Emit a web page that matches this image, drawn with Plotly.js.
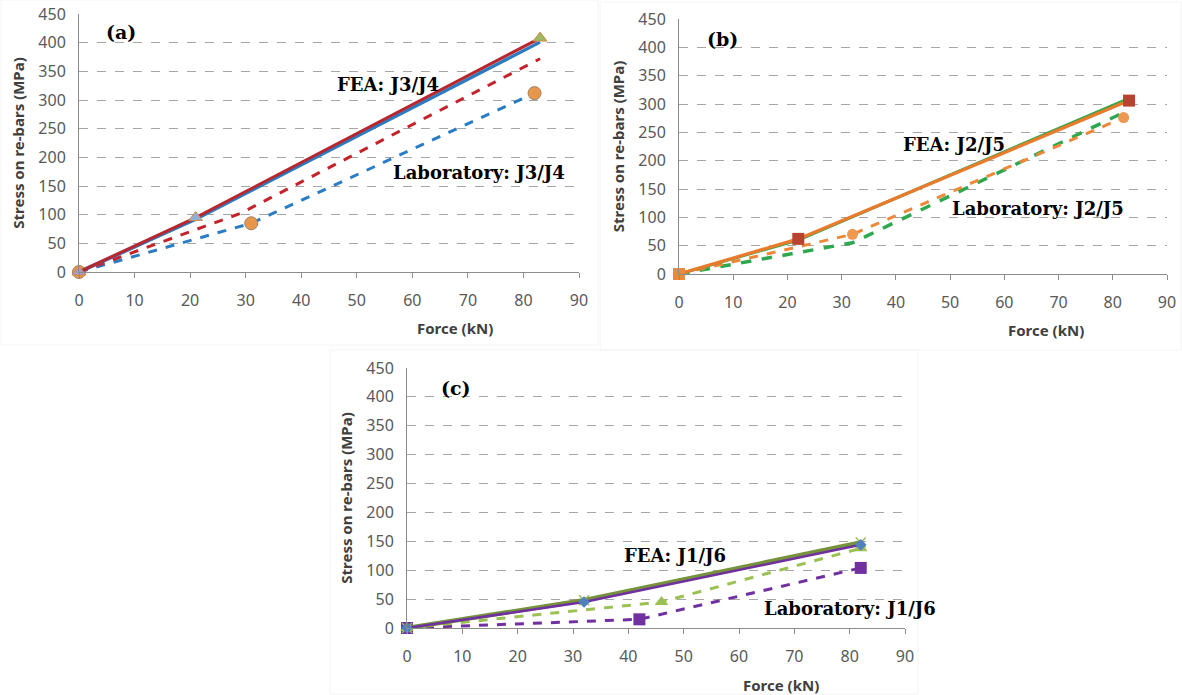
<!DOCTYPE html>
<html>
<head>
<meta charset="utf-8">
<script src="https://cdn.plot.ly/plotly-3.0.1.min.js"></script>
<style>html,body{margin:0;padding:0;background:#fff;}#chart{width:1182px;height:695px;}</style>
</head>
<body>
<div id="chart"></div>
<script>
// Panel (a): J3/J4
const a_feaJ3_x = [0, 21, 83];
const a_feaJ3_y = [0, 95, 408];
const a_feaJ4_x = [0, 21, 83];
const a_feaJ4_y = [0, 92, 401];
const a_extra_x = [0, 21];
const a_extra_y = [0, 93];
const a_labJ3_x = [0, 29, 83];
const a_labJ3_y = [0, 102, 372];
const a_labJ4_x = [0, 31, 82];
const a_labJ4_y = [0, 85, 312];

// Panel (b): J2/J5
const b_feaJ2_x = [0, 22, 83];
const b_feaJ2_y = [0, 60, 310];
const b_feaJ5_x = [0, 22, 83];
const b_feaJ5_y = [0, 62, 306];
const b_labJ2_x = [0, 32, 82];
const b_labJ2_y = [0, 55, 285];
const b_labJ5_x = [0, 32, 82];
const b_labJ5_y = [0, 70, 276];

// Panel (c): J1/J6
const c_feaJ1_x = [0, 32, 82];
const c_feaJ1_y = [0, 48, 148];
const c_feaJ6_x = [0, 32, 82];
const c_feaJ6_y = [0, 45, 144];
const c_labJ1_x = [0, 46, 82];
const c_labJ1_y = [0, 45, 138];
const c_labJ6_x = [0, 42, 82];
const c_labJ6_y = [0, 15, 104];

const xTicks = [0, 10, 20, 30, 40, 50, 60, 70, 80, 90];
const yTicks = [0, 50, 100, 150, 200, 250, 300, 350, 400, 450];
const panelLabels = ['(a)', '(b)', '(c)'];
const feaLabels = ['FEA: J3/J4', 'FEA: J2/J5', 'FEA: J1/J6'];
const labLabels = ['Laboratory: J3/J4', 'Laboratory: J2/J5', 'Laboratory: J1/J6'];
const xTitle = 'Force (kN)';
const yTitle = 'Stress on re-bars (MPa)';

function ln(x, y, ax, color, width, dash, marker) {
  return {
    x: x, y: y, xaxis: 'x' + ax, yaxis: 'y' + ax, type: 'scatter',
    mode: marker ? 'lines+markers' : 'lines',
    line: {color: color, width: width, dash: dash || 'solid'},
    marker: marker || {}, showlegend: false, hoverinfo: 'skip', cliponaxis: false
  };
}

const traces = [
  // (a)
  ln(a_extra_x, a_extra_y, '', '#a7a0cc', 4, 'solid'),
  ln(a_labJ4_x, a_labJ4_y, '', '#2a7dc4', 3, 'dash', {symbol: 'circle', size: 13, color: '#e8964c', line: {color: '#a08060', width: 1}}),
  ln(a_labJ3_x, a_labJ3_y, '', '#c4232a', 3, 'dash'),
  ln(a_feaJ4_x, a_feaJ4_y, '', '#2b7bc0', 3.2, 'solid'),
  ln(a_feaJ3_x, a_feaJ3_y, '', '#b8262e', 3, 'solid', {symbol: 'triangle-up', size: 12, color: ['#a59ac8', '#8fb0d4', '#9cb860'], line: {color: '#d08a50', width: 1}}),
  // (b)
  ln(b_labJ2_x, b_labJ2_y, '2', '#2ea84e', 3.5, 'dash'),
  ln(b_labJ5_x, b_labJ5_y, '2', '#ee8838', 3, 'dash', {symbol: 'circle', size: 11, color: '#ee9850', line: {width: 0}}),
  ln(b_feaJ2_x, b_feaJ2_y, '2', '#3aa648', 3, 'solid'),
  ln(b_feaJ5_x, b_feaJ5_y, '2', '#ea7a2c', 3.2, 'solid', {symbol: 'square', size: 12, color: ['#e8893c', '#b8432e', '#b8432e'], line: {width: 0}}),
  // (c)
  ln(c_labJ6_x, c_labJ6_y, '3', '#7030a0', 3, 'dash', {symbol: 'square', size: 12, color: '#7030a0', line: {width: 0}}),
  ln(c_labJ1_x, c_labJ1_y, '3', '#9bc152', 3, 'dash', {symbol: 'triangle-up', size: 12, color: '#9bc152', line: {width: 0}}),
  ln(c_feaJ1_x, c_feaJ1_y, '3', '#76923c', 4.5, 'solid', {symbol: 'x-thin', size: 10, color: '#9bbb59', line: {color: '#9bbb59', width: 1.5}}),
  ln(c_feaJ6_x, c_feaJ6_y, '3', '#7030a0', 2.5, 'solid', {symbol: 'diamond', size: 9, color: '#4f81bd', line: {width: 0}})
];

const W = 1182, H = 695;
const panels = [
  {ax: '', l: 79, r: 579, t: 14, b: 272},
  {ax: '2', l: 679, r: 1167, t: 19, b: 274},
  {ax: '3', l: 407, r: 905, t: 368, b: 628}
];

const layout = {
  width: W, height: H,
  margin: {l: 0, r: 0, t: 0, b: 0},
  paper_bgcolor: '#ffffff', plot_bgcolor: '#ffffff',
  showlegend: false,
  font: {family: 'Noto Sans, Open Sans, sans-serif', color: '#595959'},
  annotations: [],
  shapes: [
    {type: 'rect', xref: 'paper', yref: 'paper', x0: 1 / W, x1: 598 / W, y0: 1 - 345 / H, y1: 1, line: {color: '#f4f4f4', width: 1}, layer: 'below'},
    {type: 'rect', xref: 'paper', yref: 'paper', x0: 600 / W, x1: 1181 / W, y0: 1 - 350 / H, y1: 1 - 2 / H, line: {color: '#f4f4f4', width: 1}, layer: 'below'},
    {type: 'rect', xref: 'paper', yref: 'paper', x0: 330 / W, x1: 918 / W, y0: 1 / H, y1: 1 - 350 / H, line: {color: '#f4f4f4', width: 1}, layer: 'below'}
  ]
};

const tickFont = {family: 'Noto Sans, sans-serif', size: 16, color: '#595959'};

panels.forEach((p, i) => {
  const xa = 'xaxis' + p.ax, ya = 'yaxis' + p.ax;
  layout[xa] = {
    domain: [p.l / W, p.r / W], anchor: 'y' + p.ax,
    range: [0, 90], tickvals: xTicks, ticktext: xTicks.map(String),
    showgrid: false, zeroline: false, showline: true, linecolor: '#8c8c8c', linewidth: 1,
    ticks: 'outside', ticklen: 5, tickcolor: '#8c8c8c', tickfont: tickFont,
    ticklabelstandoff: 9, fixedrange: true
  };
  layout[ya] = {
    domain: [1 - p.b / H, 1 - p.t / H], anchor: 'x' + p.ax,
    range: [0, 450], tickvals: yTicks, ticktext: yTicks.map(String),
    showgrid: true, gridcolor: '#a6a6a6', griddash: 'dash', gridwidth: 1,
    zeroline: false, showline: true, linecolor: '#8c8c8c', linewidth: 1,
    ticks: '', ticklabelstandoff: 9, tickfont: tickFont, fixedrange: true,
    title: {text: yTitle, font: {family: 'Noto Sans, sans-serif', size: 15, color: '#404040', weight: 'bold'}, standoff: 10}
  };
});

const xref = ax => 'x' + ax + ' domain';
const yref = ax => 'y' + ax + ' domain';
const serifBold = {family: 'DejaVu Serif, Liberation Serif, serif', size: 18, color: '#000000', weight: 'bold'};

// x titles (offset right as in reference)
panels.forEach(p => {
  layout.annotations.push({xref: xref(p.ax), yref: yref(p.ax), x: 0.752, y: -0.218, xanchor: 'center', yanchor: 'middle',
    text: xTitle, showarrow: false,
    font: {family: 'Noto Sans, sans-serif', size: 15, color: '#404040', weight: 'bold'}});
});

// panel tags and series labels (centres in data coords)
const tagPos = [[7.6, 418], [8.1, 415], [8.9, 416]];
const feaPos = [[55.6, 327], [50.7, 229], [48.4, 126]];
const labPos = [[72.0, 174], [66.3, 115], [80.0, 33]];
panels.forEach((p, i) => {
  layout.annotations.push({xref: 'x' + p.ax, yref: 'y' + p.ax, x: tagPos[i][0], y: tagPos[i][1], text: panelLabels[i], showarrow: false, font: Object.assign({}, serifBold, {size: 19})});
  layout.annotations.push({xref: 'x' + p.ax, yref: 'y' + p.ax, x: feaPos[i][0], y: feaPos[i][1], text: feaLabels[i], showarrow: false, font: serifBold});
  layout.annotations.push({xref: 'x' + p.ax, yref: 'y' + p.ax, x: labPos[i][0], y: labPos[i][1], text: labLabels[i], showarrow: false, font: serifBold});
});

Plotly.newPlot('chart', traces, layout, {staticPlot: true, displayModeBar: false});
</script>
</body>
</html>
